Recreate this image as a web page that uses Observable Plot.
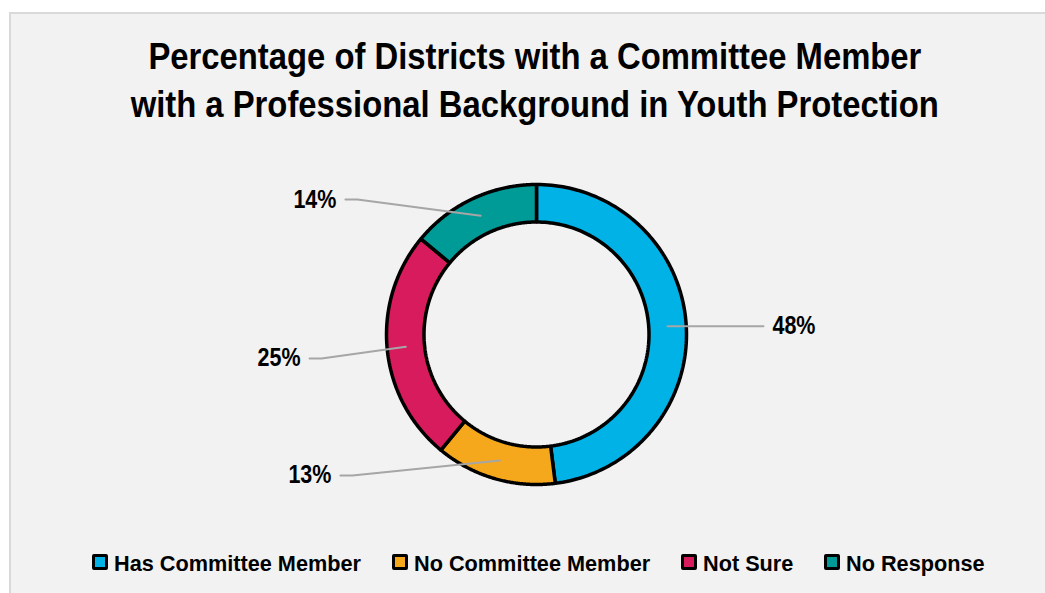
<!DOCTYPE html>
<html><head><meta charset="utf-8">
<script src="https://cdn.jsdelivr.net/npm/d3@7"></script>
<script src="https://cdn.jsdelivr.net/npm/@observablehq/plot@0.6"></script>
<style>
html,body{margin:0;padding:0;background:#fff;width:1045px;height:593px;overflow:hidden;position:relative}
#frame{position:absolute;left:9px;top:12px;width:1045px;height:600px;background:#f2f2f2;border-left:2px solid #d9d9d9;border-top:2px solid #d9d9d9;box-sizing:border-box}
.f{font-family:"Liberation Sans",Arial,sans-serif;font-weight:bold;color:#000}
#title{position:absolute;left:0;width:1070px;top:33px;text-align:center;font-size:37px;line-height:48px}
#title span{display:inline-block;white-space:nowrap;transform-origin:50% 50%}
#chart{position:absolute;left:0;top:150px}
#legend{position:absolute;left:0;top:552px;width:1045px;height:26px;font-size:22.5px;line-height:23px;white-space:nowrap}
.sw{position:absolute;top:2px;width:10px;height:10px;border:3px solid #000;border-radius:2px}
.lt{position:absolute;top:0;transform-origin:0 50%}
</style></head>
<body>
<div id="frame"></div>
<div id="title" class="f"></div>
<div id="chart"></div>
<div id="legend" class="f"></div>
<script>
// ---- data ----
const titleLines = ["Percentage of Districts with a Committee Member", "with a Professional Background in Youth Protection"];
const categories = ["Has Committee Member", "No Committee Member", "Not Sure", "No Response"];
const percents = [48, 13, 25, 14];
const colors = ["#00b2e6", "#f6a81d", "#d81b5c", "#009a97"];
// ---- layout (label anchor positions, in polar terms relative to the outer radius) ----
const labelAngleDeg = [88, 235.5, 264.2, 304];
const labelRadius = [1.574, 1.659, 1.581, 1.609];
const innerRatio = 0.75;
// narrow-font emulation: target widths of reference texts
const titleTargetW = 773, legendTargetW = 247, labelTargetW = 43;

// title
const T = document.getElementById("title");
const tSpans = titleLines.map((t, i) => { const s = document.createElement("span"); s.textContent = t; T.appendChild(s); if (i < titleLines.length - 1) T.appendChild(document.createElement("br")); return s; });
const fT = titleTargetW / tSpans[0].getBoundingClientRect().width;
tSpans.forEach(s => s.style.transform = `scaleX(${fT})`);

// slices
const arcs = d3.pie().sort(null).value(d => d)(percents);
const slicePts = [];
arcs.forEach((a, i) => {
  const n = 120;
  for (let k = 0; k <= n; k++) { const t = a.startAngle + (a.endAngle - a.startAngle) * k / n; slicePts.push({cat: categories[i], x: Math.sin(t), y: Math.cos(t)}); }
  for (let k = n; k >= 0; k--) { const t = a.startAngle + (a.endAngle - a.startAngle) * k / n; slicePts.push({cat: categories[i], x: innerRatio * Math.sin(t), y: innerRatio * Math.cos(t)}); }
});
// leaders and labels
const gap = 0.06, seg = 0.08, midR = (1 + innerRatio) / 2;
const leaderPts = [], labels = [];
arcs.forEach((a, i) => {
  const m = (a.startAngle + a.endAngle) / 2;
  const la = labelAngleDeg[i] * Math.PI / 180;
  const lx = labelRadius[i] * Math.sin(la), ly = labelRadius[i] * Math.cos(la);
  const side = lx >= 0 ? 1 : -1;
  const ex = lx - side * gap, bx = ex - side * seg;
  leaderPts.push({cat: categories[i], x: midR * Math.sin(m), y: midR * Math.cos(m)});
  leaderPts.push({cat: categories[i], x: bx, y: ly});
  leaderPts.push({cat: categories[i], x: ex, y: ly});
  labels.push({cat: categories[i], x: lx, y: ly, side, text: percents[i] + "%"});
});
const font = '"Liberation Sans",Arial,sans-serif';
const plot = Plot.plot({
  width: 1045, height: 380, margin: 0,
  style: {background: "transparent", overflow: "visible"},
  x: {type: "linear", domain: [-1, 1], range: [386, 686], axis: null},
  y: {type: "linear", domain: [-1, 1], range: [334, 34], axis: null},
  color: {domain: categories, range: colors},
  marks: [
    Plot.line(slicePts, {x: "x", y: "y", z: "cat", fill: "cat", stroke: "#000", strokeWidth: 3.5, curve: "linear-closed", strokeLinejoin: "miter"}),
    Plot.line(leaderPts, {x: "x", y: "y", z: "cat", stroke: "#a6a6a6", strokeWidth: 2, curve: "linear"}),
    Plot.text(labels.filter(d => d.side > 0), {x: "x", y: "y", text: "text", textAnchor: "start", fontSize: 25, fontWeight: "bold", fontFamily: font, fill: "#000"}),
    Plot.text(labels.filter(d => d.side < 0), {x: "x", y: "y", text: "text", textAnchor: "end", fontSize: 25, fontWeight: "bold", fontFamily: font, fill: "#000"})
  ]
});
document.getElementById("chart").appendChild(plot);
const texts = [...plot.querySelectorAll("text")];
const fL = labelTargetW / (texts.find(t => t.textContent === "48%") || texts[0]).getComputedTextLength();
texts.forEach(t => { t.setAttribute("textLength", (t.getComputedTextLength() * fL).toFixed(2)); t.setAttribute("lengthAdjust", "spacingAndGlyphs"); });

// legend
const L = document.getElementById("legend");
const swW = 16, swGap = 6, itemGap = 31;
const items = categories.map((c, i) => {
  const sw = document.createElement("span"); sw.className = "sw"; sw.style.background = colors[i];
  const tx = document.createElement("span"); tx.className = "lt"; tx.textContent = c;
  L.appendChild(sw); L.appendChild(tx);
  return {sw, tx, w: tx.getBoundingClientRect().width};
});
const fG = legendTargetW / items[0].w;
const total = items.reduce((s, d) => s + swW + swGap + d.w * fG, 0) + itemGap * (items.length - 1);
let x = 538.5 - total / 2;
items.forEach(d => {
  d.sw.style.left = x + "px"; x += swW + swGap;
  d.tx.style.left = x + "px"; d.tx.style.transform = `scaleX(${fG})`; x += d.w * fG + itemGap;
});
</script>
</body></html>
